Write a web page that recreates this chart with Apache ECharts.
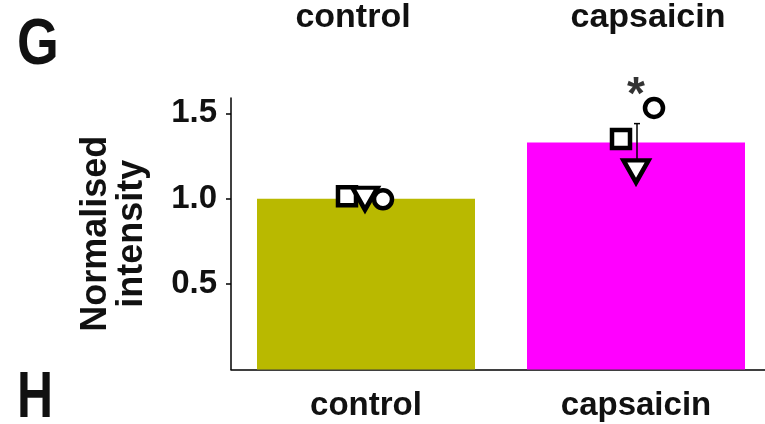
<!DOCTYPE html>
<html>
<head>
<meta charset="utf-8">
<script src="https://cdn.jsdelivr.net/npm/echarts@6/dist/echarts.min.js"></script>
<style>html,body{margin:0;padding:0;background:#fff;}#c{width:765px;height:424px;}</style>
</head>
<body>
<div id="c"></div>
<script>
var categories = ['control', 'capsaicin'];
var meanVals = [1.0, 1.33];
var semVals = [0, 0.11];
var squareVals = [1.015, 1.35];
var triangleVals = [1.0, 1.16];
var circleVals = [0.997, 1.532];
var starVals = [null, 1.60];
var yTicks = [0.5, 1.0, 1.5];
var barColors = ['#b9b900', '#ff00ff'];
var panelLabels = ['G', 'H'];

var FONT = '"Liberation Sans", Arial, sans-serif';
var chart = echarts.init(document.getElementById('c'), null, {renderer: 'canvas'});

function pts(vals, offsets) {
  return vals.map(function (v, i) {
    return v == null ? null : {value: [i, v], symbolOffset: [offsets[i], 0]};
  }).filter(function (d) { return d; });
}

var option = {
  backgroundColor: '#fff',
  animation: false,
  grid: {left: 231, top: 98, width: 540, bottom: 54.5, outerBoundsMode: 'none', containLabel: false},
  xAxis: [{
    type: 'category', data: categories, position: 'bottom',
    axisLine: {lineStyle: {color: '#000', width: 1.5}},
    axisTick: {show: false},
    axisLabel: {fontFamily: FONT, fontWeight: 'bold', fontSize: 33, color: '#111', margin: 20}
  }, {
    type: 'category', position: 'top',
    data: [
      {value: categories[0], textStyle: {padding: [0, 26, 0, 0]}},
      {value: categories[1], textStyle: {padding: [0, 0, 0, 24]}}
    ],
    axisLine: {show: false}, axisTick: {show: false},
    axisLabel: {fontFamily: FONT, fontWeight: 'bold', fontSize: 34, color: '#111', margin: 63}
  }],
  yAxis: {
    type: 'value', min: 0, max: 1.59,
    name: 'Normalised\nintensity', nameLocation: 'middle', nameRotate: 90, nameGap: 81,
    nameTextStyle: {fontFamily: FONT, fontWeight: 'bold', fontSize: 36, color: '#111', lineHeight: 36},
    axisLine: {show: true, lineStyle: {color: '#000', width: 1.5}},
    axisTick: {show: true, inside: false, length: 5, lineStyle: {color: '#000', width: 1.5}, customValues: yTicks},
    axisLabel: {fontFamily: FONT, fontWeight: 'bold', fontSize: 33, color: '#111', margin: 14,
      customValues: yTicks, formatter: function (v) { return v.toFixed(1); }},
    splitLine: {show: false}
  },
  graphic: [
    {type: 'text', left: 17, top: 14, scaleX: 0.84,
      style: {text: panelLabels[0], font: 'bold 64px ' + FONT, fill: '#111'}},
    {type: 'text', left: 17, top: 367, scaleX: 0.78,
      style: {text: panelLabels[1], font: 'bold 64px ' + FONT, fill: '#111'}}
  ],
  series: [
    {
      type: 'bar', barWidth: 218,
      data: meanVals.map(function (v, i) { return {value: v, itemStyle: {color: barColors[i]}}; }),
      z: 1
    },
    {
      type: 'custom', z: 5,
      data: meanVals.map(function (v, i) { return [i, v, semVals[i]]; }),
      renderItem: function (params, api) {
        var sem = api.value(2);
        if (!sem) return null;
        var top = api.coord([api.value(0), api.value(1) + sem]);
        var bot = api.coord([api.value(0), api.value(1) - sem]);
        var x = top[0] + 1;
        return {type: 'group', children: [
          {type: 'line', shape: {x1: x, y1: top[1], x2: x, y2: bot[1]}, style: {stroke: '#000', lineWidth: 1.5}},
          {type: 'line', shape: {x1: x - 3, y1: top[1], x2: x + 3, y2: top[1]}, style: {stroke: '#000', lineWidth: 1.5}}
        ]};
      }
    },
    {
      type: 'scatter', z: 6, symbol: 'rect', symbolSize: 18,
      itemStyle: {color: '#fff', borderColor: '#000', borderWidth: 4.5, opacity: 1},
      data: pts(squareVals, [-19, -15])
    },
    {
      type: 'scatter', z: 7, symbol: 'triangle', symbolSize: [25, 22], symbolRotate: 180,
      itemStyle: {color: '#fff', borderColor: '#000', borderWidth: 4.5, opacity: 1},
      data: pts(triangleVals, [-1, 0])
    },
    {
      type: 'scatter', z: 8, symbol: 'circle', symbolSize: 18,
      itemStyle: {color: '#fff', borderColor: '#000', borderWidth: 4.5, opacity: 1},
      data: pts(circleVals, [17, 18])
    },
    {
      type: 'scatter', z: 9, symbolSize: 1, clip: false,
      itemStyle: {color: 'rgba(0,0,0,0)'},
      label: {show: true, position: 'inside', formatter: '*', fontFamily: FONT, fontWeight: 'bold',
        fontSize: 46, color: '#000', offset: [0, 0]},
      data: pts(starVals, [0, 0])
    }
  ]
};
chart.setOption(option);
</script>
</body>
</html>
